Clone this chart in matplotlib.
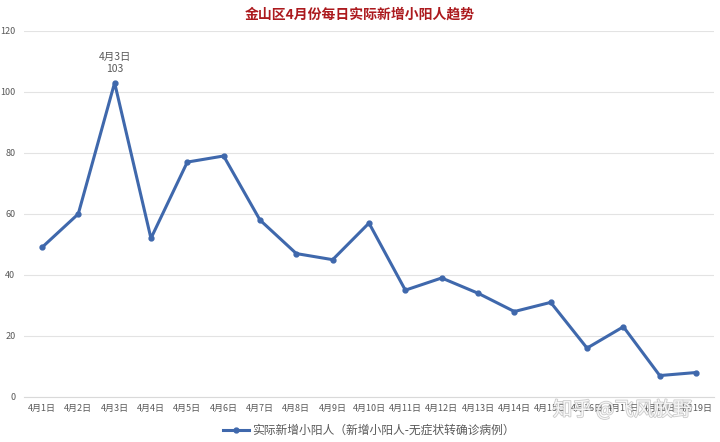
import matplotlib

matplotlib.use('Agg')
import matplotlib.pyplot as plt
import matplotlib.patheffects as pe

plt.rcParams['font.family'] = ['Noto Sans CJK SC', 'DejaVu Sans']

# data
days = [f"4月{d}日" for d in range(1, 20)]
new_cases = [49, 60, 103, 52, 77, 79, 58, 47, 45, 57, 35, 39, 34, 28, 31, 16, 23, 7, 8]
y_ticks = [0, 20, 40, 60, 80, 100, 120]
series_name = "实际新增小阳人（新增小阳人-无症状转确诊病例）"
title = "金山区4月份每日实际新增小阳人趋势"

fig = plt.figure(figsize=(7.2, 4.42), dpi=100)
ax = fig.add_axes([0.033, 0.102, 0.959, 0.828])

x = list(range(len(days)))
line_color = '#3F68AC'
ax.plot(x, new_cases, color=line_color, linewidth=2.2, marker='o', markersize=3.5,
        label=series_name)

# peak label
peak = new_cases.index(max(new_cases))
ax.annotate(f"{days[peak]}\n{new_cases[peak]}", (peak, new_cases[peak]),
            xytext=(0, 6), textcoords='offset points', ha='center', va='bottom',
            fontsize=7.5, color='#595959', linespacing=1.3)

ax.set_xlim(-0.5, len(days) - 0.5)
ax.set_ylim(0, 120)
ax.set_yticks(y_ticks)
ax.set_xticks(x)
ax.set_xticklabels(days)
ax.tick_params(axis='both', length=0, labelsize=6.5, colors='#595959')
ax.tick_params(axis='x', pad=5)
ax.tick_params(axis='y', pad=6)
ax.grid(axis='y', color='#E3E3E3', linewidth=0.8)
ax.set_axisbelow(True)
for s in ['top', 'right', 'left']:
    ax.spines[s].set_visible(False)
ax.spines['bottom'].set_color('#D9D9D9')
ax.spines['bottom'].set_linewidth(0.8)

fig.text(0.5, 0.968, title, ha='center', va='center', fontsize=10,
         fontweight='bold', color='#AC1A1E')

leg = ax.legend(loc='upper center', bbox_to_anchor=(0.5, -0.045), frameon=False,
                fontsize=8.5, handlelength=2.2, handletextpad=0.3)
for t in leg.get_texts():
    t.set_color('#595959')

# watermark
fig.text(0.865, 0.072, "知乎 @飞风放野", ha='center', va='center', fontsize=14,
         color='white', alpha=0.85,
         path_effects=[pe.withStroke(linewidth=1.2, foreground='#999999', alpha=0.5)])

fig.savefig("out.png", dpi=100)
plt.close(fig)
